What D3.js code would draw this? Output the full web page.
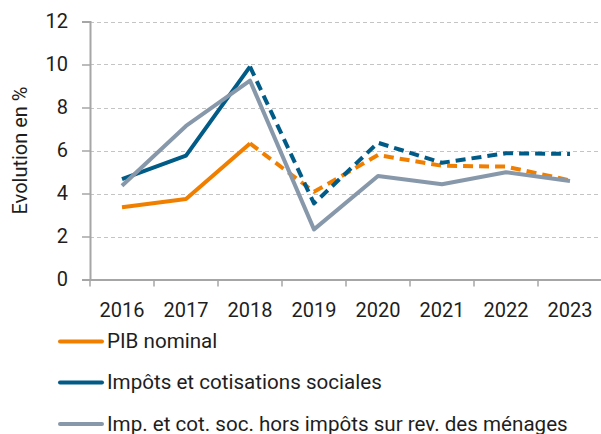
<!DOCTYPE html>
<html>
<head>
<meta charset="utf-8">
<script src="https://cdn.jsdelivr.net/npm/d3@7"></script>
<style>
  html, body { margin: 0; padding: 0; background: #fff; }
  svg { display: block; }
  text { font-family: Roboto, "DejaVu Sans", sans-serif; fill: #1e1e1e; }
</style>
</head>
<body>
<svg id="chart" width="601" height="434"></svg>
<script>
const years = ["2016","2017","2018","2019","2020","2021","2022","2023"];
const pibNominal = [3.36, 3.74, 6.33, 4.08, 5.79, 5.29, 5.25, 4.61];
const impotsCotisations = [4.67, 5.76, 9.90, 3.54, 6.36, 5.43, 5.87, 5.84];
const impHorsMenages = [4.36, 7.14, 9.25, 2.33, 4.81, 4.43, 4.99, 4.58];
const yTicks = [0, 2, 4, 6, 8, 10, 12];
const seriesNames = ["PIB nominal", "Impôts et cotisations sociales", "Imp. et cot. soc. hors impôts sur rev. des ménages"];
const seriesColors = ["#f07f00", "#005b87", "#8898ab"];
const dashedFrom = [2, 2, null]; // index from which the series is dashed (forecast)

const svg = d3.select("#chart");
const margin = {left: 90, right: 0, top: 21.5, bottom: 154.5};
const W = 601, H = 434;

const x = d3.scaleBand().domain(years).range([margin.left, 602]).paddingInner(0).paddingOuter(0);
const y = d3.scaleLinear().domain([0, 12]).range([H - margin.bottom, margin.top]);

// gridlines
svg.append("g").selectAll("line").data(yTicks.filter(d => d > 0)).join("line")
  .attr("x1", margin.left).attr("x2", W)
  .attr("y1", d => Math.round(y(d)) + 0.5).attr("y2", d => Math.round(y(d)) + 0.5)
  .attr("stroke", "#c4c4c4").attr("stroke-width", 1).attr("stroke-dasharray", "4,3");

// y axis
const yAxis = svg.append("g").attr("transform", `translate(${margin.left},0)`)
  .call(d3.axisLeft(y).tickValues(yTicks).tickSize(8).tickPadding(14).tickFormat(d3.format("d")));
yAxis.select(".domain").attr("stroke", "#a6a6a6").attr("stroke-width", 2);
yAxis.selectAll(".tick line").attr("stroke", "#a6a6a6").attr("stroke-width", 1.5);
yAxis.selectAll(".tick text").attr("font-size", 20).attr("font-family", "Roboto").attr("fill", "#1e1e1e");

// x axis
const xAxis = svg.append("g").attr("transform", `translate(0,${y(0)})`)
  .call(d3.axisBottom(x).tickSize(0).tickPadding(0));
xAxis.select(".domain").attr("stroke", "#a6a6a6").attr("stroke-width", 2);
xAxis.selectAll(".tick text").attr("font-size", 20).attr("font-family", "Roboto")
  .attr("fill", "#1e1e1e").attr("y", 37.5).attr("dy", 0);
// boundary ticks between categories
const bounds = years.map(d => x(d)).concat([x(years[years.length - 1]) + x.bandwidth()]);
xAxis.append("g").selectAll("line").data(bounds).join("line")
  .attr("x1", d => d).attr("x2", d => d).attr("y1", 0).attr("y2", 7)
  .attr("stroke", "#a6a6a6").attr("stroke-width", 1.5);

// y label
svg.append("text")
  .attr("transform", `translate(27,${(y(0) + y(12)) / 2}) rotate(-90)`)
  .attr("text-anchor", "middle").attr("font-size", 20)
  .text("Evolution en %");

// lines
const allSeries = [pibNominal, impotsCotisations, impHorsMenages];
const line = d3.line().x(d => x(d.year) + x.bandwidth() / 2).y(d => y(d.v));
const plot = svg.append("g");
allSeries.forEach((vals, i) => {
  const pts = vals.map((v, j) => ({year: years[j], v}));
  const cut = dashedFrom[i];
  if (cut === null) {
    plot.append("path").attr("d", line(pts)).attr("fill", "none")
      .attr("stroke", seriesColors[i]).attr("stroke-width", 4).attr("stroke-linejoin", "round");
  } else {
    plot.append("path").attr("d", line(pts.slice(0, cut + 1))).attr("fill", "none")
      .attr("stroke", seriesColors[i]).attr("stroke-width", 4).attr("stroke-linejoin", "round");
    plot.append("path").attr("d", line(pts.slice(cut))).attr("fill", "none")
      .attr("stroke", seriesColors[i]).attr("stroke-width", 4).attr("stroke-linejoin", "round")
      .attr("stroke-dasharray", "10,6");
  }
});

// legend
const legend = svg.append("g");
const legY = [341.5, 382.5, 424];
seriesNames.forEach((name, i) => {
  legend.append("line").attr("x1", 60).attr("x2", 102).attr("y1", legY[i]).attr("y2", legY[i])
    .attr("stroke", seriesColors[i]).attr("stroke-width", 4).attr("stroke-linecap", "round");
  legend.append("text").attr("x", 107).attr("y", legY[i] + 6.5).attr("font-size", 20.6).text(name);
});
</script>
</body>
</html>
